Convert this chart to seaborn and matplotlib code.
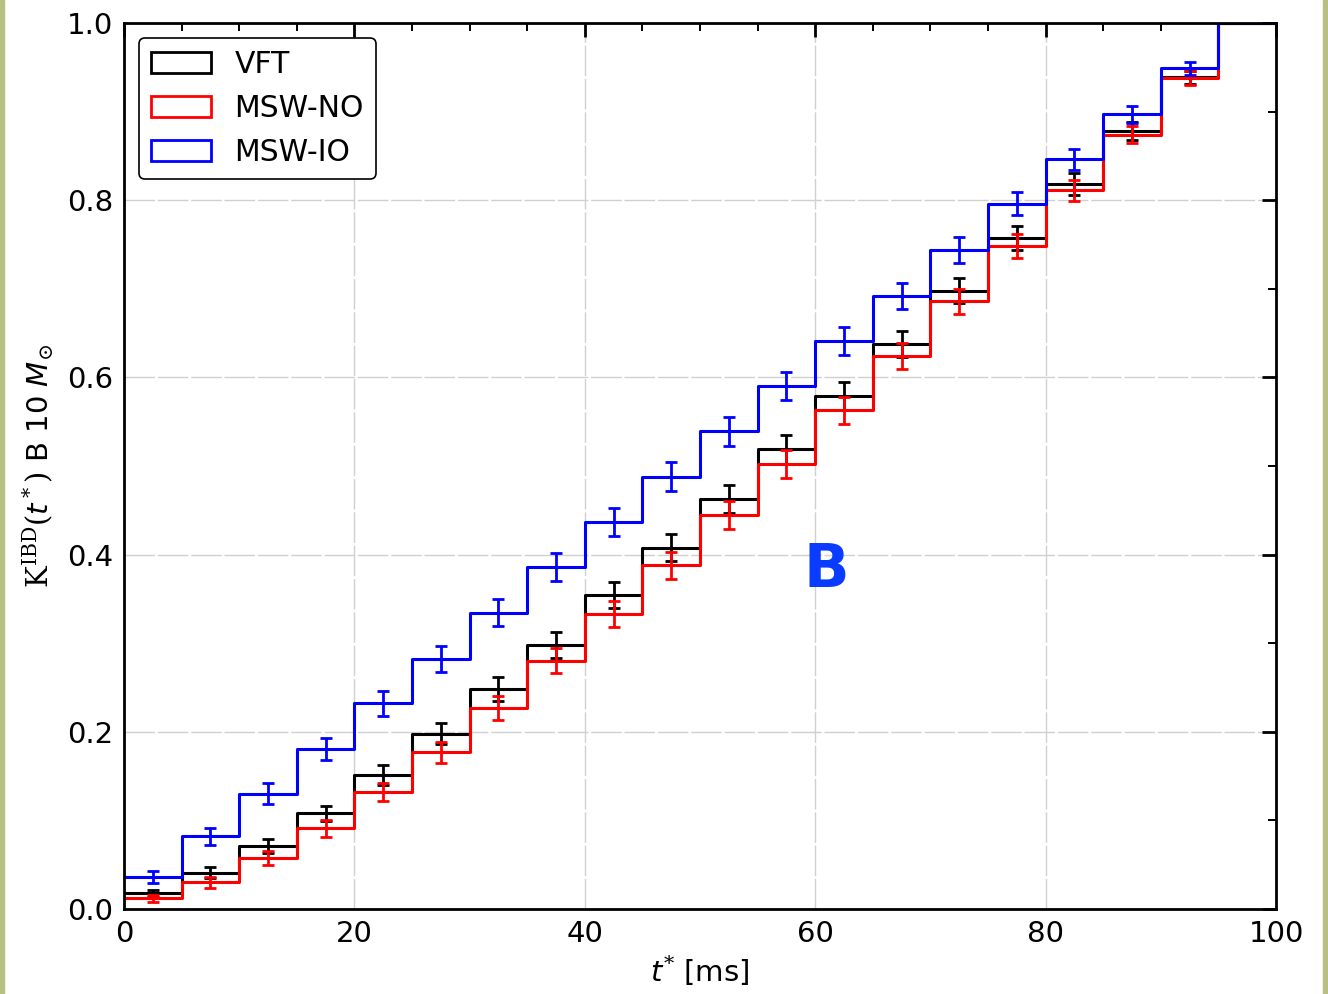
import numpy as np
import pandas as pd
import seaborn as sns
import matplotlib.pyplot as plt
from matplotlib.patches import Patch, Rectangle
from matplotlib.ticker import MultipleLocator

# bin edges (ms) and bin centres
bin_edges = [0, 5, 10, 15, 20, 25, 30, 35, 40, 45, 50, 55, 60, 65, 70, 75, 80, 85, 90, 95, 100]
t_centers = [2.5, 7.5, 12.5, 17.5, 22.5, 27.5, 32.5, 37.5, 42.5, 47.5,
             52.5, 57.5, 62.5, 67.5, 72.5, 77.5, 82.5, 87.5, 92.5, 97.5]

# cumulative fraction per bin
vft = [0.018, 0.041, 0.071, 0.108, 0.151, 0.198, 0.248, 0.298, 0.354, 0.408,
       0.463, 0.519, 0.579, 0.638, 0.698, 0.757, 0.818, 0.878, 0.939, 1.0]
msw_no = [0.012, 0.030, 0.057, 0.091, 0.132, 0.177, 0.227, 0.280, 0.333, 0.388,
          0.445, 0.502, 0.563, 0.624, 0.686, 0.748, 0.811, 0.874, 0.938, 1.0]
msw_io = [0.036, 0.082, 0.130, 0.181, 0.232, 0.2825, 0.3345, 0.386, 0.437, 0.488,
          0.539, 0.590, 0.641, 0.6915, 0.744, 0.796, 0.846, 0.897, 0.949, 1.0]

# error bars (first 19 bins)
vft_err = [0.004, 0.006, 0.0075, 0.0087, 0.011, 0.0122, 0.0135, 0.0147, 0.0147, 0.0155,
           0.0156, 0.0162, 0.0154, 0.0149, 0.0145, 0.0134, 0.0122, 0.0105, 0.0073]
no_err = [0.004, 0.006, 0.0079, 0.0094, 0.0102, 0.012, 0.0137, 0.0141, 0.0147, 0.0154,
          0.0156, 0.016, 0.0154, 0.0147, 0.0139, 0.0137, 0.012, 0.0098, 0.0079]
io_err = [0.0064, 0.0094, 0.0117, 0.0124, 0.014, 0.0149, 0.0155, 0.0155, 0.016, 0.0164,
          0.016, 0.016, 0.0156, 0.0147, 0.0145, 0.013, 0.012, 0.0098, 0.0075]

labels = ['VFT', 'MSW-NO', 'MSW-IO']
colors = ['black', 'red', 'blue']

sns.set_style('white')
plt.rcParams['font.family'] = ['DejaVu Sans']
plt.rcParams['text.color'] = 'black'
plt.rcParams['axes.labelcolor'] = 'black'
plt.rcParams['xtick.color'] = 'black'
plt.rcParams['ytick.color'] = 'black'
plt.rcParams['mathtext.fontset'] = 'custom'
plt.rcParams['mathtext.rm'] = 'DejaVu Serif'
plt.rcParams['mathtext.it'] = 'DejaVu Sans:italic'
plt.rcParams['mathtext.bf'] = 'DejaVu Sans:bold'

fig = plt.figure(figsize=(13.28, 9.94), dpi=100)
ax = fig.add_axes([124 / 1328, 1 - 909 / 994, 1152 / 1328, 886 / 994])

series = [(vft, vft_err), (msw_no, no_err), (msw_io, io_err)]
for (vals, errs), lab, c in zip(series, labels, colors):
    df = pd.DataFrame({'t': t_centers, 'K': vals})
    sns.histplot(data=df, x='t', weights='K', bins=bin_edges, element='step',
                 fill=False, color=c, linewidth=2.2, ax=ax)
    ax.errorbar(t_centers[:len(errs)], vals[:len(errs)], yerr=errs, fmt='none',
                ecolor=c, elinewidth=2.0, capsize=4.5, capthick=2.0)

ax.set_xlim(0, 100)
ax.set_ylim(0, 1.0)
ax.xaxis.set_major_locator(MultipleLocator(20))
ax.xaxis.set_minor_locator(MultipleLocator(5))
ax.yaxis.set_major_locator(MultipleLocator(0.2))
ax.yaxis.set_minor_locator(MultipleLocator(0.1))
ax.grid(True, which='major', color='#d0d0d0', linestyle=(0, (22, 2)), linewidth=1.0)
ax.set_axisbelow(True)

ax.tick_params(which='both', direction='in', top=True, right=True, labelsize=21,
               colors='black')
ax.tick_params(which='major', length=10, width=2.0, pad=8)
ax.tick_params(which='minor', length=6, width=1.4)
for sp in ax.spines.values():
    sp.set_linewidth(2.0)
    sp.set_color('black')

ax.set_xlabel(r'$t^{*}$ [ms]', fontsize=21, labelpad=4)
ax.set_ylabel(r'$\mathrm{K}^{\mathrm{IBD}}(t^*)$ B 10 $M_{\odot}$', fontsize=21, labelpad=8)

ax.text(61.0, 0.382, 'B', color='#0a3cff', fontsize=43, fontweight='bold',
        ha='center', va='center')

handles = [Patch(facecolor='none', edgecolor=c, linewidth=2.0) for c in colors]
leg = ax.legend(handles, labels, loc='upper left', fontsize=21.5, frameon=True,
                fancybox=True, framealpha=1, edgecolor='black')
leg.get_frame().set_linewidth(1.2)

# olive strips at the image edges
strip = '#b7c080'
fig.patches.append(Rectangle((0, 0), 4 / 1328, 1, transform=fig.transFigure,
                             color=strip, zorder=0))
fig.patches.append(Rectangle((1323 / 1328, 0), 5 / 1328, 1, transform=fig.transFigure,
                             color=strip, zorder=0))

fig.savefig('out.png', dpi=100)
